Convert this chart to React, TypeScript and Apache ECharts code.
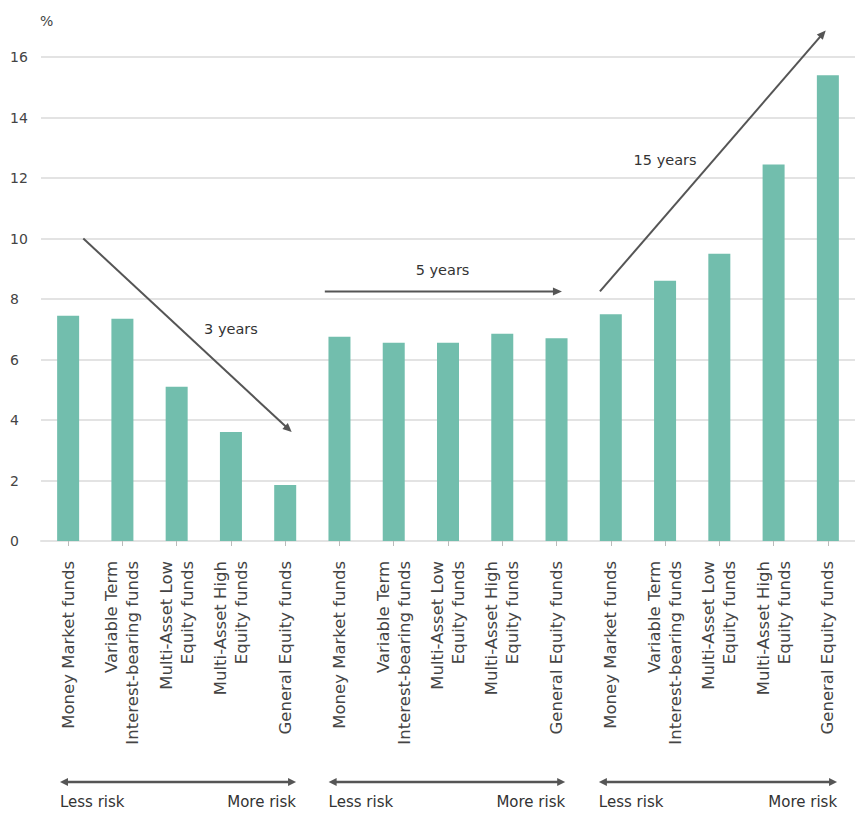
import React, { useEffect, useRef } from "react";
import * as echarts from "echarts";

const groupCategories = [
  "Money Market funds",
  "Variable Term\nInterest-bearing funds",
  "Multi-Asset Low\nEquity funds",
  "Multi-Asset High\nEquity funds",
  "General Equity funds",
];
const categories = [...groupCategories, ...groupCategories, ...groupCategories];

const values3y = [7.45, 7.35, 5.1, 3.6, 1.85];
const values5y = [6.75, 6.55, 6.55, 6.85, 6.7];
const values15y = [7.5, 8.6, 9.5, 12.45, 15.4];
const values = [...values3y, ...values5y, ...values15y];

const yMin = 0;
const yMax = 16;
const yInterval = 2;

// horizon annotations in data terms: [category position, value]
const horizonLabels = ["3 years", "5 years", "15 years"];
const horizonFrom = [[0.28, 10], [4.73, 8.25], [9.8, 8.25]];
const horizonTo = [[4.12, 3.6], [9.1, 8.25], [13.96, 16.88]];
const horizonLabelAt = [[3.0, 7.0], [6.9, 8.95], [11.0, 12.6]];

// risk spans under each group, in category positions
const riskSpans = [[-0.15, 4.2], [4.8, 9.16], [9.78, 14.17]];

const FONT = "'DejaVu Sans', sans-serif";
const DARK = "#555";

function arrowHead(x: number, y: number, ang: number, len = 9, half = 4.5) {
  const c = Math.cos(ang), s = Math.sin(ang);
  return [
    [x, y],
    [x - len * c + half * s, y - len * s - half * c],
    [x - len * c - half * s, y - len * s + half * c],
  ];
}

export default function App() {
  const ref = useRef<HTMLDivElement>(null);
  useEffect(() => {
    if (!ref.current) return;
    const chart = echarts.init(ref.current, null, { renderer: "svg" });
    chart.setOption({
      animation: false,
      grid: { left: 41, top: 57, width: 819, height: 484 },
      xAxis: [
        {
          type: "category",
          data: categories,
          axisLine: { show: true, lineStyle: { color: "#e3e3e3", width: 2 } },
          axisTick: { show: true, alignWithLabel: true, length: 5, lineStyle: { color: "#bbb" } },
          axisLabel: {
            interval: 0,
            rotate: 90,
            margin: 20,
            fontFamily: FONT,
            fontSize: 16.5,
            lineHeight: 21,
            color: "#444",
          },
        },
        { type: "value", min: -0.5, max: 14.5, show: false },
      ],
      yAxis: {
        type: "value",
        min: yMin,
        max: yMax,
        interval: yInterval,
        axisLine: { show: false },
        axisTick: { show: false },
        splitLine: { lineStyle: { color: "#e3e3e3", width: 2 } },
        axisLabel: {
          align: "left",
          margin: 31,
          fontFamily: FONT,
          fontSize: 14,
          color: "#444",
        },
      },
      series: [
        {
          type: "bar",
          data: values,
          barWidth: 22,
          itemStyle: { color: "#72BEAD" },
        },
      ],
    });

    const px = (v: number) => chart.convertToPixel({ xAxisIndex: 1 }, v) as number;
    const py = (v: number) => chart.convertToPixel({ yAxisIndex: 0 }, v) as number;

    const graphics: any[] = [];
    graphics.push({
      type: "text",
      style: { text: "%", x: 40, y: 21, fill: "#444", fontSize: 14, fontFamily: FONT, align: "left", verticalAlign: "middle", textAlign: "left", textVerticalAlign: "middle" },
    });

    horizonLabels.forEach((lab, i) => {
      const x1 = px(horizonFrom[i][0]), y1 = py(horizonFrom[i][1]);
      const x2 = px(horizonTo[i][0]), y2 = py(horizonTo[i][1]);
      const ang = Math.atan2(y2 - y1, x2 - x1);
      const bx = x2 - 7 * Math.cos(ang), by = y2 - 7 * Math.sin(ang);
      graphics.push({ type: "line", shape: { x1, y1, x2: bx, y2: by }, style: { stroke: DARK, lineWidth: 2 } });
      graphics.push({ type: "polygon", shape: { points: arrowHead(x2, y2, ang, 9, 4) }, style: { fill: DARK } });
      graphics.push({
        type: "text",
        style: {
          text: lab, x: px(horizonLabelAt[i][0]), y: py(horizonLabelAt[i][1]),
          fill: "#333", fontSize: 14.5, fontFamily: FONT,
          align: "center", verticalAlign: "middle", textAlign: "center", textVerticalAlign: "middle",
        },
      });
    });

    const arrowY = 782;
    const textY = 802;
    riskSpans.forEach(([a, b]) => {
      const xa = px(a), xb = px(b);
      graphics.push({ type: "line", shape: { x1: xa + 6, y1: arrowY, x2: xb - 6, y2: arrowY }, style: { stroke: DARK, lineWidth: 2.5 } });
      graphics.push({ type: "polygon", shape: { points: arrowHead(xb, arrowY, 0, 8, 4) }, style: { fill: DARK } });
      graphics.push({ type: "polygon", shape: { points: arrowHead(xa, arrowY, Math.PI, 8, 4) }, style: { fill: DARK } });
      graphics.push({
        type: "text",
        style: { text: "Less risk", x: xa, y: textY, fill: "#333", fontSize: 15, fontFamily: FONT, align: "left", verticalAlign: "middle", textAlign: "left", textVerticalAlign: "middle" },
      });
      graphics.push({
        type: "text",
        style: { text: "More risk", x: xb, y: textY, fill: "#333", fontSize: 15, fontFamily: FONT, align: "right", verticalAlign: "middle", textAlign: "right", textVerticalAlign: "middle" },
      });
    });

    chart.setOption({ graphic: graphics });
    return () => chart.dispose();
  }, []);
  return (
    <div
      ref={ref}
      style={{ position: "absolute", left: 0, top: 0, width: 855, height: 813, background: "#fff" }}
    />
  );
}
